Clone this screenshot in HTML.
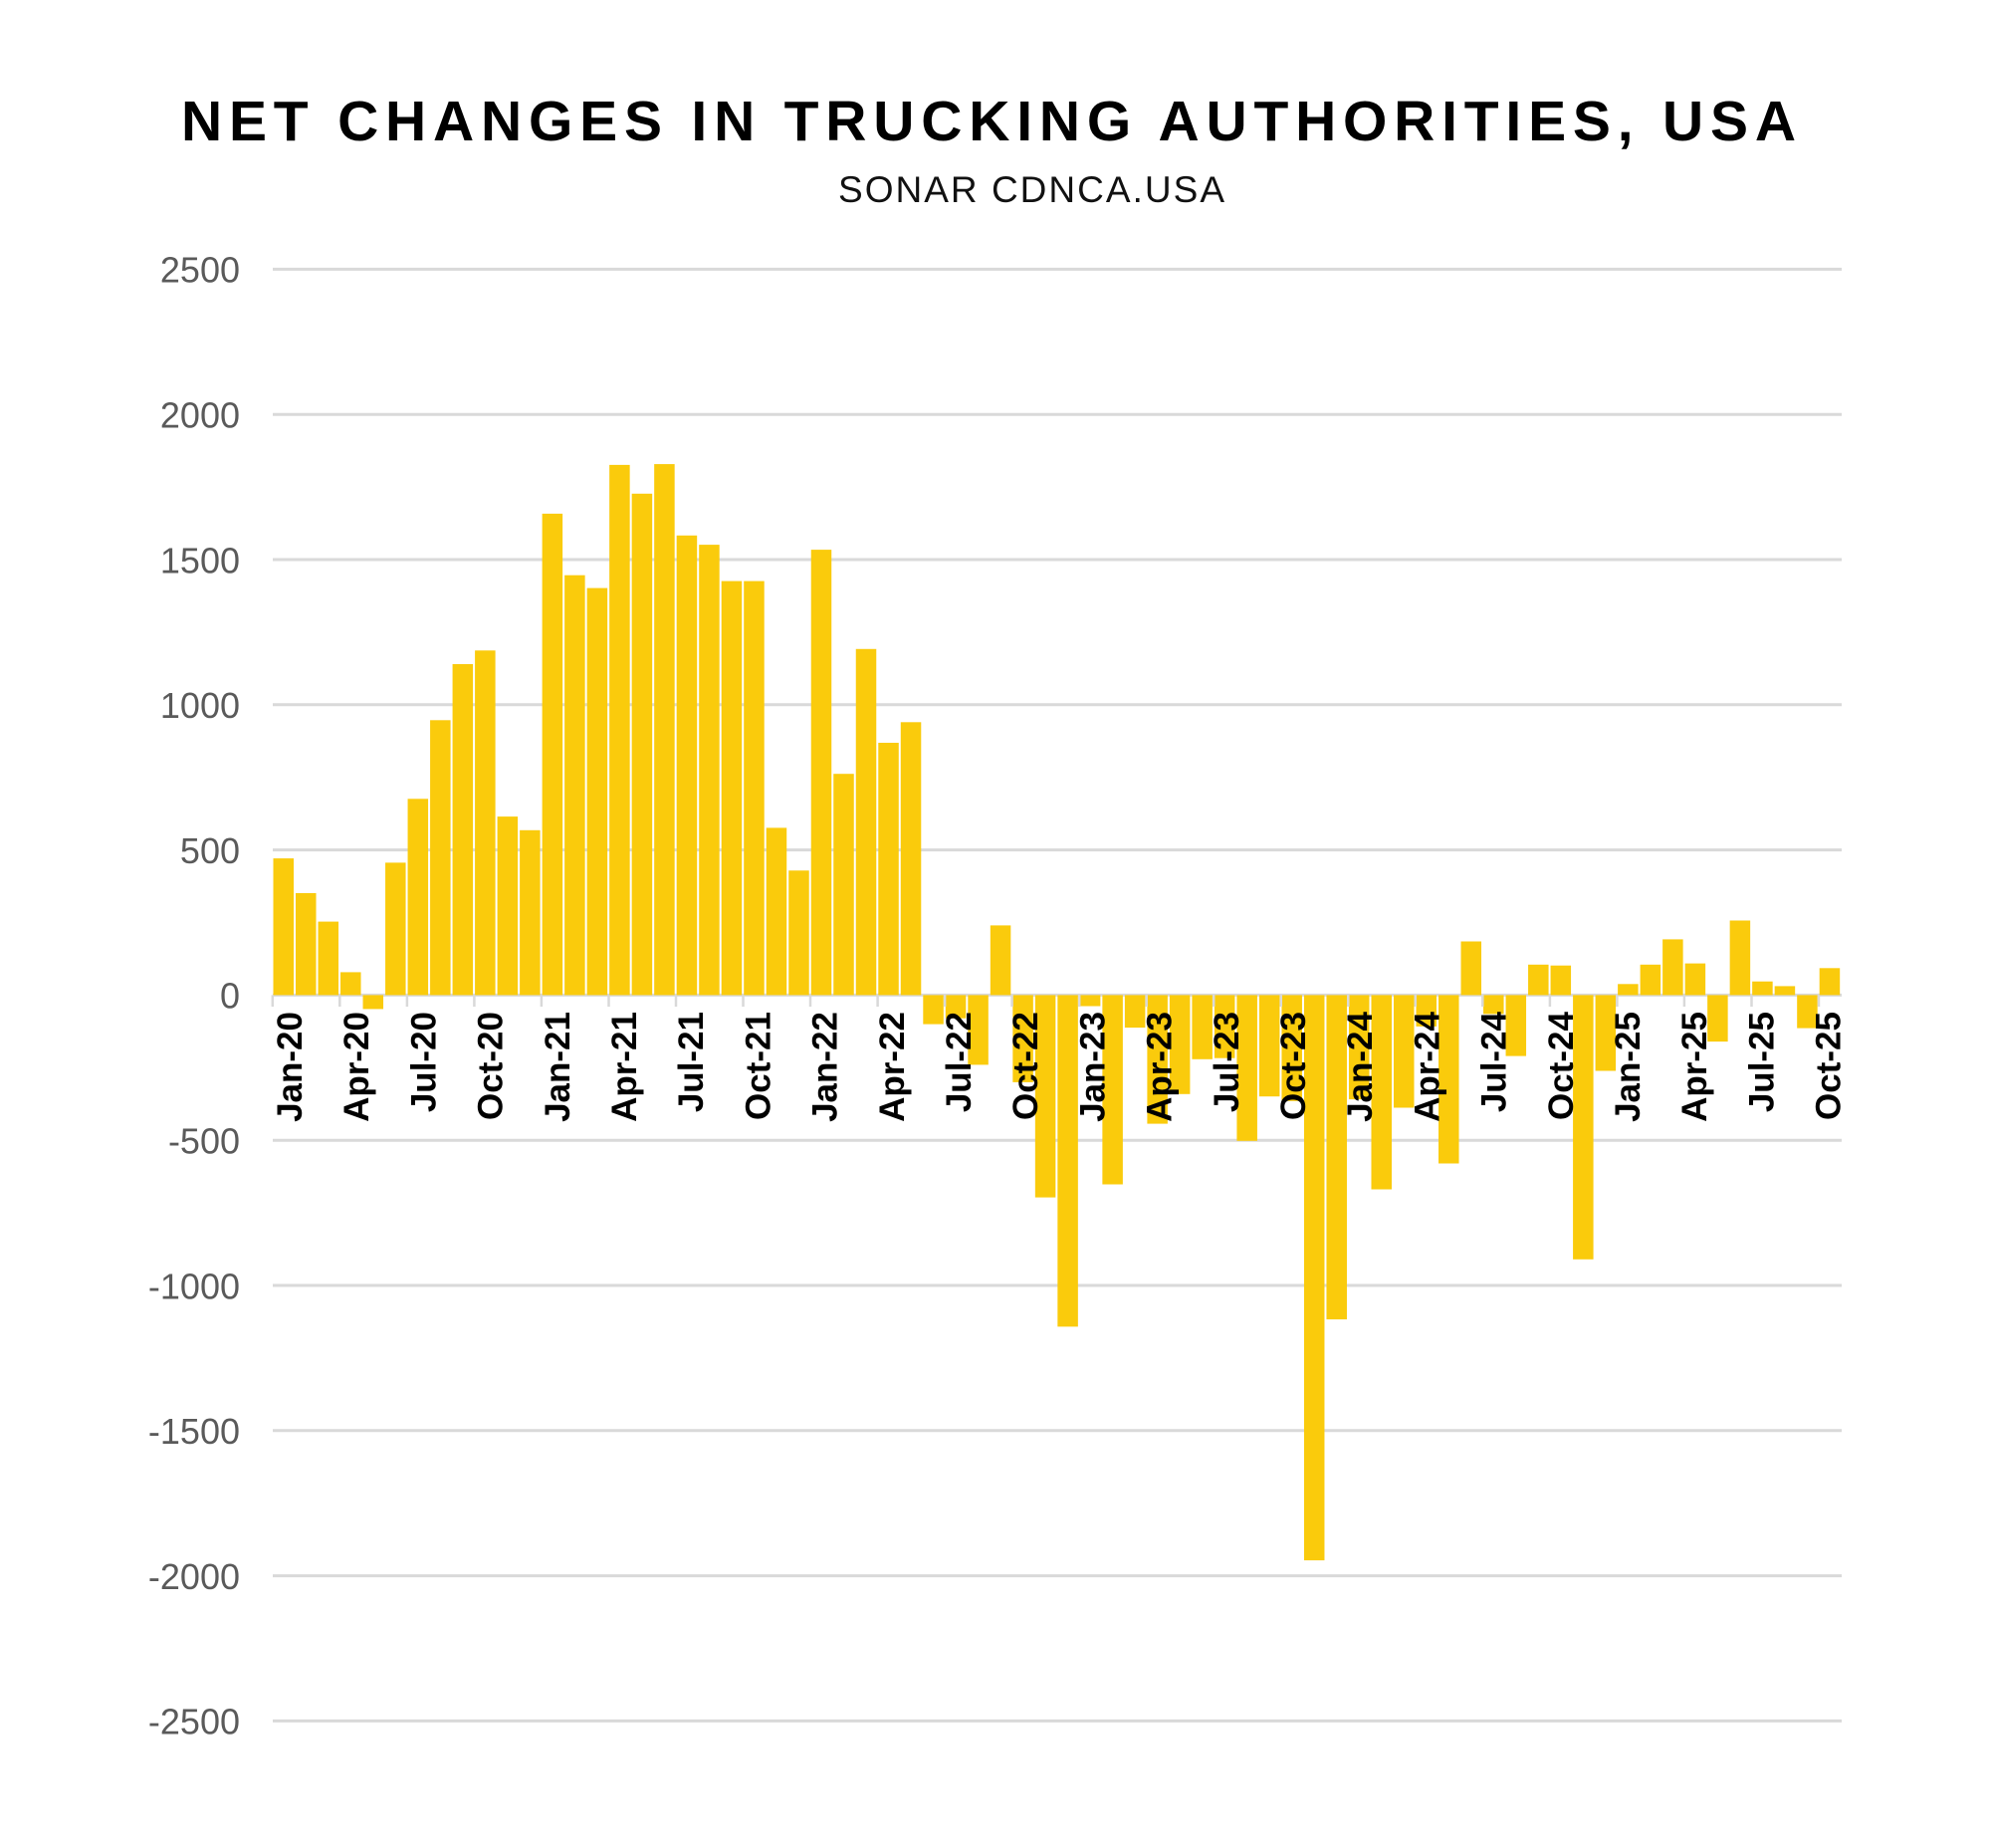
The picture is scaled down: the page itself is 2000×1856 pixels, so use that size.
<!DOCTYPE html>
<html>
<head>
<meta charset="utf-8">
<style>
html,body{margin:0;padding:0;background:#fff;}
svg{display:block;}
.yl{font-family:"Liberation Sans",sans-serif;font-size:36px;fill:#5a5a5a;}
.xl{font-family:"Liberation Sans",sans-serif;font-size:35px;font-weight:bold;fill:#000;}
</style>
</head>
<body>
<svg width="2000" height="1856" viewBox="0 0 2000 1856" xmlns="http://www.w3.org/2000/svg">
<rect width="2000" height="1856" fill="#fff"/>
<text x="182" y="141" font-family="Liberation Sans, sans-serif" font-weight="bold" font-size="57" fill="#000" textLength="1622" lengthAdjust="spacing">NET CHANGES IN TRUCKING AUTHORITIES, USA</text>
<text x="842" y="203" font-family="Liberation Sans, sans-serif" font-size="37" fill="#111" textLength="388" lengthAdjust="spacing">SONAR CDNCA.USA</text>

<g stroke="#d9d9d9" stroke-width="3">
<line x1="274" x2="1850" y1="270.4" y2="270.4"/>
<line x1="274" x2="1850" y1="416.2" y2="416.2"/>
<line x1="274" x2="1850" y1="562.0" y2="562.0"/>
<line x1="274" x2="1850" y1="707.8" y2="707.8"/>
<line x1="274" x2="1850" y1="853.6" y2="853.6"/>
<line x1="274" x2="1850" y1="999.4" y2="999.4"/>
<line x1="274" x2="1850" y1="1145.2" y2="1145.2"/>
<line x1="274" x2="1850" y1="1291.0" y2="1291.0"/>
<line x1="274" x2="1850" y1="1436.8" y2="1436.8"/>
<line x1="274" x2="1850" y1="1582.6" y2="1582.6"/>
<line x1="274" x2="1850" y1="1728.4" y2="1728.4"/>
</g>

<g text-anchor="end" class="yl">
<text x="241" y="283.7">2500</text>
<text x="241" y="429.5">2000</text>
<text x="241" y="575.3">1500</text>
<text x="241" y="721.1">1000</text>
<text x="241" y="866.9">500</text>
<text x="241" y="1012.7">0</text>
<text x="241" y="1158.5">-500</text>
<text x="241" y="1304.3">-1000</text>
<text x="241" y="1450.1">-1500</text>
<text x="241" y="1595.9">-2000</text>
<text x="241" y="1741.7">-2500</text>
</g>

<g fill="#FACB0C">
<rect x="274.5" y="862.1" width="20.5" height="137.3"/>
<rect x="297.01" y="897.0" width="20.5" height="102.4"/>
<rect x="319.52" y="925.6" width="20.5" height="73.8"/>
<rect x="342.03" y="976.4" width="20.5" height="23.0"/>
<rect x="364.54" y="999.4" width="20.5" height="14.0"/>
<rect x="387.05" y="866.4" width="20.5" height="133.0"/>
<rect x="409.56" y="802.3" width="20.5" height="197.1"/>
<rect x="432.07" y="723.3" width="20.5" height="276.1"/>
<rect x="454.58" y="667.0" width="20.5" height="332.4"/>
<rect x="477.09" y="653.3" width="20.5" height="346.1"/>
<rect x="499.6" y="820.1" width="20.5" height="179.3"/>
<rect x="522.11" y="833.8" width="20.5" height="165.6"/>
<rect x="544.62" y="515.9" width="20.5" height="483.5"/>
<rect x="567.13" y="577.7" width="20.5" height="421.7"/>
<rect x="589.64" y="590.6" width="20.5" height="408.8"/>
<rect x="612.15" y="466.9" width="20.5" height="532.5"/>
<rect x="634.66" y="495.8" width="20.5" height="503.6"/>
<rect x="657.17" y="466.1" width="20.5" height="533.3"/>
<rect x="679.68" y="537.8" width="20.5" height="461.6"/>
<rect x="702.19" y="547.1" width="20.5" height="452.3"/>
<rect x="724.7" y="583.6" width="20.5" height="415.8"/>
<rect x="747.21" y="583.6" width="20.5" height="415.8"/>
<rect x="769.72" y="831.4" width="20.5" height="168.0"/>
<rect x="792.23" y="874.3" width="20.5" height="125.1"/>
<rect x="814.74" y="552.1" width="20.5" height="447.3"/>
<rect x="837.25" y="777.2" width="20.5" height="222.2"/>
<rect x="859.76" y="651.8" width="20.5" height="347.6"/>
<rect x="882.27" y="746.0" width="20.5" height="253.4"/>
<rect x="904.78" y="725.3" width="20.5" height="274.1"/>
<rect x="927.29" y="999.4" width="20.5" height="29.2"/>
<rect x="949.8" y="999.4" width="20.5" height="23.3"/>
<rect x="972.31" y="999.4" width="20.5" height="70.0"/>
<rect x="994.82" y="929.4" width="20.5" height="70.0"/>
<rect x="1017.33" y="999.4" width="20.5" height="87.5"/>
<rect x="1039.84" y="999.4" width="20.5" height="203.2"/>
<rect x="1062.35" y="999.4" width="20.5" height="333.0"/>
<rect x="1084.86" y="999.4" width="20.5" height="11.1"/>
<rect x="1107.37" y="999.4" width="20.5" height="190.1"/>
<rect x="1129.88" y="999.4" width="20.5" height="32.7"/>
<rect x="1152.39" y="999.4" width="20.5" height="129.2"/>
<rect x="1174.9" y="999.4" width="20.5" height="99.4"/>
<rect x="1197.41" y="999.4" width="20.5" height="64.4"/>
<rect x="1219.92" y="999.4" width="20.5" height="63.3"/>
<rect x="1242.43" y="999.4" width="20.5" height="146.4"/>
<rect x="1264.94" y="999.4" width="20.5" height="101.8"/>
<rect x="1287.45" y="999.4" width="20.5" height="106.4"/>
<rect x="1309.96" y="999.4" width="20.5" height="567.7"/>
<rect x="1332.47" y="999.4" width="20.5" height="325.7"/>
<rect x="1354.98" y="999.4" width="20.5" height="104.7"/>
<rect x="1377.49" y="999.4" width="20.5" height="195.1"/>
<rect x="1400.0" y="999.4" width="20.5" height="113.1"/>
<rect x="1422.51" y="999.4" width="20.5" height="31.5"/>
<rect x="1445.02" y="999.4" width="20.5" height="169.1"/>
<rect x="1467.53" y="945.5" width="20.5" height="53.9"/>
<rect x="1490.04" y="999.4" width="20.5" height="19.0"/>
<rect x="1512.55" y="999.4" width="20.5" height="61.2"/>
<rect x="1535.06" y="968.8" width="20.5" height="30.6"/>
<rect x="1557.57" y="969.7" width="20.5" height="29.7"/>
<rect x="1580.08" y="999.4" width="20.5" height="265.4"/>
<rect x="1602.59" y="999.4" width="20.5" height="76.1"/>
<rect x="1625.1" y="988.3" width="20.5" height="11.1"/>
<rect x="1647.61" y="968.8" width="20.5" height="30.6"/>
<rect x="1670.12" y="943.4" width="20.5" height="56.0"/>
<rect x="1692.63" y="967.6" width="20.5" height="31.8"/>
<rect x="1715.14" y="999.4" width="20.5" height="46.7"/>
<rect x="1737.65" y="924.5" width="20.5" height="74.9"/>
<rect x="1760.16" y="985.7" width="20.5" height="13.7"/>
<rect x="1782.67" y="990.4" width="20.5" height="9.0"/>
<rect x="1805.18" y="999.4" width="20.5" height="33.2"/>
<rect x="1827.69" y="972.3" width="20.5" height="27.1"/>
</g>

<g stroke="#d9d9d9" stroke-width="2.5">
<line x1="273.8" x2="273.8" y1="999.4" y2="1011"/>
<line x1="341.3" x2="341.3" y1="999.4" y2="1011"/>
<line x1="408.9" x2="408.9" y1="999.4" y2="1011"/>
<line x1="476.4" x2="476.4" y1="999.4" y2="1011"/>
<line x1="543.9" x2="543.9" y1="999.4" y2="1011"/>
<line x1="611.5" x2="611.5" y1="999.4" y2="1011"/>
<line x1="679.0" x2="679.0" y1="999.4" y2="1011"/>
<line x1="746.5" x2="746.5" y1="999.4" y2="1011"/>
<line x1="814.0" x2="814.0" y1="999.4" y2="1011"/>
<line x1="881.6" x2="881.6" y1="999.4" y2="1011"/>
<line x1="949.1" x2="949.1" y1="999.4" y2="1011"/>
<line x1="1016.6" x2="1016.6" y1="999.4" y2="1011"/>
<line x1="1084.2" x2="1084.2" y1="999.4" y2="1011"/>
<line x1="1151.7" x2="1151.7" y1="999.4" y2="1011"/>
<line x1="1219.2" x2="1219.2" y1="999.4" y2="1011"/>
<line x1="1286.8" x2="1286.8" y1="999.4" y2="1011"/>
<line x1="1354.3" x2="1354.3" y1="999.4" y2="1011"/>
<line x1="1421.8" x2="1421.8" y1="999.4" y2="1011"/>
<line x1="1489.3" x2="1489.3" y1="999.4" y2="1011"/>
<line x1="1556.9" x2="1556.9" y1="999.4" y2="1011"/>
<line x1="1624.4" x2="1624.4" y1="999.4" y2="1011"/>
<line x1="1691.9" x2="1691.9" y1="999.4" y2="1011"/>
<line x1="1759.5" x2="1759.5" y1="999.4" y2="1011"/>
<line x1="1827.0" x2="1827.0" y1="999.4" y2="1011"/>
</g>

<g class="xl" text-anchor="end">
<text transform="translate(303,1016) rotate(-90)">Jan-20</text>
<text transform="translate(370.2,1016) rotate(-90)">Apr-20</text>
<text transform="translate(437.4,1016) rotate(-90)">Jul-20</text>
<text transform="translate(504.6,1016) rotate(-90)">Oct-20</text>
<text transform="translate(571.8,1016) rotate(-90)">Jan-21</text>
<text transform="translate(639,1016) rotate(-90)">Apr-21</text>
<text transform="translate(706.2,1016) rotate(-90)">Jul-21</text>
<text transform="translate(773.4,1016) rotate(-90)">Oct-21</text>
<text transform="translate(840.6,1016) rotate(-90)">Jan-22</text>
<text transform="translate(907.8,1016) rotate(-90)">Apr-22</text>
<text transform="translate(975,1016) rotate(-90)">Jul-22</text>
<text transform="translate(1042.2,1016) rotate(-90)">Oct-22</text>
<text transform="translate(1109.4,1016) rotate(-90)">Jan-23</text>
<text transform="translate(1176.6,1016) rotate(-90)">Apr-23</text>
<text transform="translate(1243.8,1016) rotate(-90)">Jul-23</text>
<text transform="translate(1311,1016) rotate(-90)">Oct-23</text>
<text transform="translate(1378.2,1016) rotate(-90)">Jan-24</text>
<text transform="translate(1445.4,1016) rotate(-90)">Apr-24</text>
<text transform="translate(1512.6,1016) rotate(-90)">Jul-24</text>
<text transform="translate(1579.8,1016) rotate(-90)">Oct-24</text>
<text transform="translate(1647,1016) rotate(-90)">Jan-25</text>
<text transform="translate(1714.2,1016) rotate(-90)">Apr-25</text>
<text transform="translate(1781.4,1016) rotate(-90)">Jul-25</text>
<text transform="translate(1848.6,1016) rotate(-90)">Oct-25</text>
</g>
</svg>
</body>
</html>
